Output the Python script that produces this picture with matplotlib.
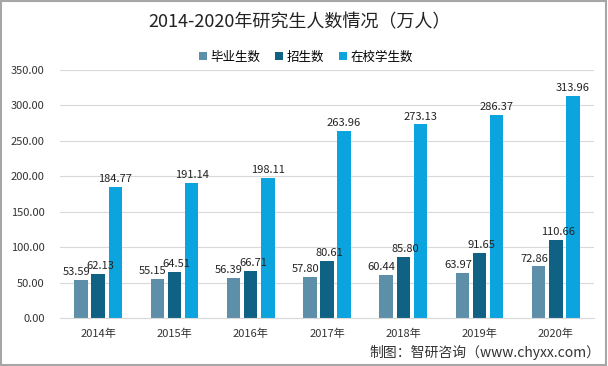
import matplotlib.pyplot as plt
import numpy as np

plt.rcParams['font.family'] = ['Noto Sans CJK SC', 'DejaVu Sans']

years = ["2014年", "2015年", "2016年", "2017年", "2018年", "2019年", "2020年"]
graduates = [53.59, 55.15, 56.39, 57.80, 60.44, 63.97, 72.86]
enrolled = [62.13, 64.51, 66.71, 80.61, 85.80, 91.65, 110.66]
in_school = [184.77, 191.14, 198.11, 263.96, 273.13, 286.37, 313.96]

series = [("毕业生数", graduates, "#5e8fa8"),
          ("招生数", enrolled, "#0f6283"),
          ("在校学生数", in_school, "#0ba4de")]

fig = plt.figure(figsize=(6.08, 3.66), dpi=100)
ax = fig.add_axes([60/608, 48/366, 534/608, 248/366])

x = np.arange(len(years))
w = 0.175
offs = [-0.225, 0, 0.225]
label_shift = [-0.06, 0.03, 0]
for (name, vals, col), o, ls in zip(series, offs, label_shift):
    bars = ax.bar(x + o, vals, w, color=col, label=name, zorder=2)
    for b, v in zip(bars, vals):
        ax.text(b.get_x() + b.get_width()/2 + ls, v + 4, f"{v:.2f}",
                ha="center", va="bottom", fontsize=8, color="#222222")

ax.set_xlim(-0.5, len(years) - 0.5)
ax.set_ylim(0, 350)
ax.set_yticks(np.arange(0, 351, 50))
ax.set_yticklabels([f"{v:.2f}" for v in np.arange(0, 351, 50)])
ax.set_xticks(x)
ax.set_xticklabels(years)
ax.tick_params(length=0, labelsize=8, colors="#333333")
ax.tick_params(axis="x", pad=8)
ax.tick_params(axis="y", pad=11)
ax.grid(axis="y", color="#d9d9d9", linewidth=0.8, zorder=0)
for s in ["top", "right", "left"]:
    ax.spines[s].set_visible(False)
ax.spines["bottom"].set_color("#d9d9d9")

fig.text(300/608, 1 - 22/366, "2014-2020年研究生人数情况（万人）", ha="center", va="center",
         fontsize=13, color="#222222")
ax.legend(loc="center", bbox_to_anchor=(306/608, 1 - 57/366), bbox_transform=fig.transFigure,
          ncol=3, frameon=False, fontsize=9, handlelength=0.6, handleheight=0.6,
          handletextpad=0.3, columnspacing=1.2)
fig.text(1 - 8/608, 1 - 352/366, "制图：智研咨询（www.chyxx.com）", ha="right", va="center",
         fontsize=10, color="#333333")

fig.patches.append(plt.Rectangle((0.002, 0.003), 0.995, 0.994, transform=fig.transFigure,
                                 fill=False, edgecolor="#a6a6a6", linewidth=1.5))

fig.savefig("out.png", dpi=100)
